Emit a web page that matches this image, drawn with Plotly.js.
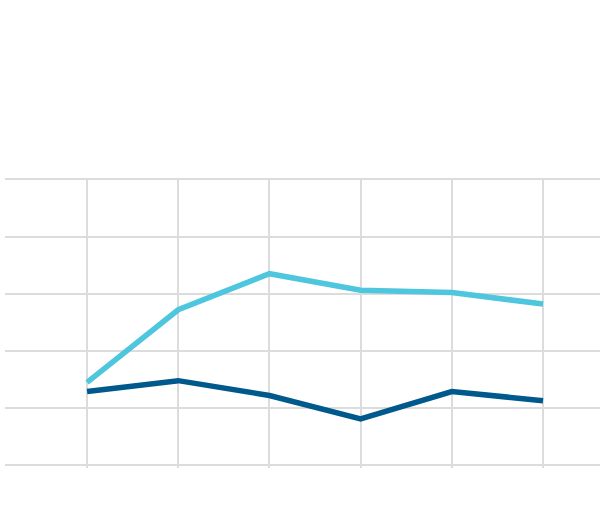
<!DOCTYPE html>
<html>
<head>
<meta charset="utf-8">
<script src="https://cdn.plot.ly/plotly-3.0.1.min.js"></script>
<style>html,body{margin:0;padding:0;background:#fff;}#chart{width:600px;height:532px;}</style>
</head>
<body>
<div id="chart"></div>
<script>
const categories = ["1", "2", "3", "4", "5", "6"];
const seriesLight = [14.5, 27.2, 33.5, 30.6, 30.2, 28.2];
const seriesDark = [12.9, 14.8, 12.2, 8.1, 12.9, 11.3];
const yTicks = [0, 10, 20, 30, 40, 50];

const traces = [
  {x: categories, y: seriesDark, type: "scatter", mode: "lines", name: "Series B",
   line: {color: "#00598c", width: 5.5}},
  {x: categories, y: seriesLight, type: "scatter", mode: "lines", name: "Series A",
   line: {color: "#4ec6de", width: 5.5}}
];

const layout = {
  width: 600, height: 532,
  margin: {l: 5, r: 0, t: 178, b: 64, pad: 0},
  paper_bgcolor: "#ffffff", plot_bgcolor: "#ffffff",
  showlegend: false,
  xaxis: {
    type: "category", range: [-0.9, 5.625],
    showgrid: true, gridcolor: "#dcdcdc", gridwidth: 2,
    showticklabels: false, ticks: "", zeroline: false, showline: false, fixedrange: true
  },
  yaxis: {
    range: [-0.47, 50.23], tickvals: yTicks,
    showgrid: true, gridcolor: "#dcdcdc", gridwidth: 2,
    showticklabels: false, ticks: "", zeroline: false, showline: false, fixedrange: true
  }
};

Plotly.newPlot("chart", traces, layout, {displayModeBar: false, staticPlot: true});
</script>
</body>
</html>
